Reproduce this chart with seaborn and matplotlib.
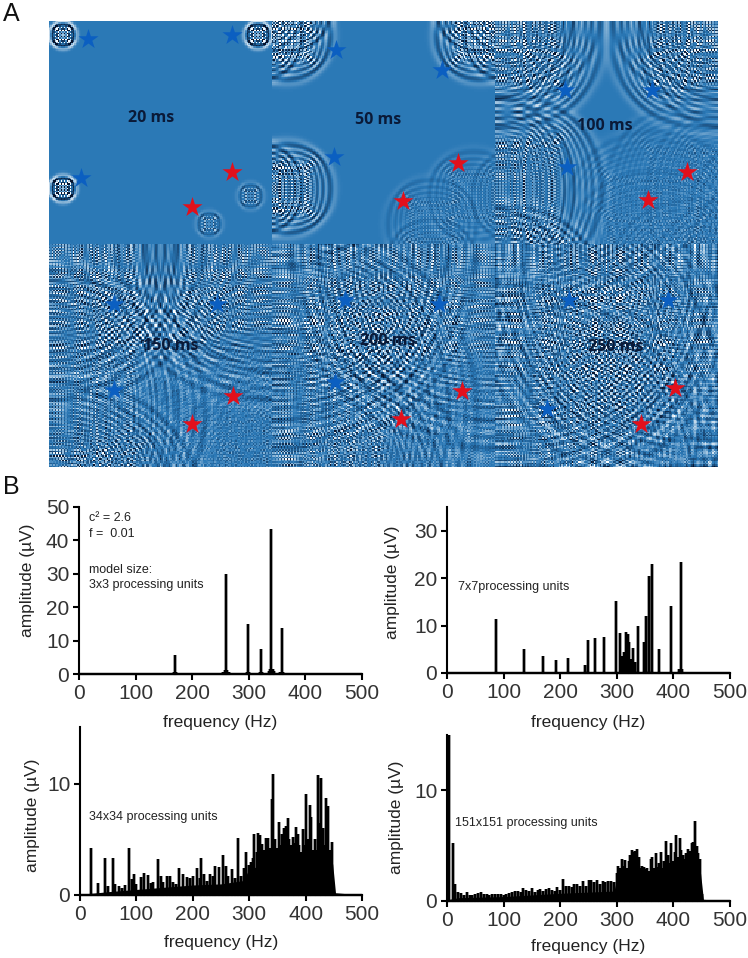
import numpy as np
import pandas as pd
import matplotlib
matplotlib.use("Agg")
import matplotlib.pyplot as plt
from matplotlib.colors import LinearSegmentedColormap
import seaborn as sns

# ---------- data ----------
time_labels = ["20 ms", "50 ms", "100 ms", "150 ms", "200 ms", "250 ms"]
time_label_x = [151, 378, 605, 171, 388, 616]
time_label_y = [118, 120, 126, 346, 341, 347]
blue_star_x = [88, 232, 81, 336, 442, 334, 565, 652, 567, 114, 217, 114, 345, 439, 335, 569, 668, 547]
blue_star_y = [39, 35, 178, 50, 70, 157, 90, 90, 167, 304, 304, 390, 300, 304, 382, 300, 300, 409]
red_star_x = [232, 192, 458, 403, 687, 648, 233, 192, 462, 401, 675, 641]
red_star_y = [172, 207, 163, 201, 172, 200, 396, 424, 391, 419, 388, 424]

# Wave sources within one panel (cells of a 151x151 grid) and their strengths.
source_col = [9, 141, 9, 136, 108]
source_row = [9, 9, 113, 118, 137]
source_amp = [1.0, 1.0, 1.0, 0.3, 0.3]
snapshot_steps = [14, 50, 100, 150, 200, 250]
snapshot_range = [0.05, 0.035, 0.028, 0.024, 0.022, 0.02]

f1 = [170, 168, 172, 255, 258, 260, 262, 265, 296, 298, 300, 319, 321, 323, 336, 338, 340, 342, 344, 356, 358, 360]
a1 = [5.8, 0.5, 0.5, 0.6, 1.2, 30, 1.2, 0.6, 0.6, 15, 0.6, 0.5, 7.6, 0.5, 0.9, 1.4, 43.5, 1.4, 0.9, 0.5, 13.7, 0.5]

f2 = [87, 136, 169, 192, 213, 243, 249, 261, 278, 298, 306, 310, 313, 317, 320, 322, 325,
      329, 333, 338, 348, 352, 357, 363, 375, 396, 410, 413, 416]
a2 = [11.3, 5, 3.5, 2.8, 3.2, 1.7, 7, 7.4, 7.6, 15.2, 8.4, 3.5, 4.5, 8.6, 8.3, 6.5, 3,
      5.3, 2.3, 10, 6.5, 12, 20.5, 23, 5, 14.2, 0.8, 23.5, 0.8]

f3 = [20, 32, 45, 50, 58, 62, 70, 75, 80, 86, 92, 95, 100, 108, 113, 120, 125, 130, 138, 143, 148,
      155, 160, 165, 170, 175, 183, 190, 195, 200, 207, 212, 215, 220, 225, 230, 235, 240, 247, 253,
      258, 263, 270, 275, 281, 286, 290, 295, 300, 303, 306, 309, 313, 316, 319, 322, 326, 330, 333,
      337, 340, 343, 346, 349, 352, 355, 358, 362, 365, 368, 371, 374, 377, 380, 383, 386, 389, 392,
      395, 398, 401, 404, 407, 410, 413, 416, 419, 422, 425, 428, 431, 434, 437, 440, 443, 446, 449]
a3 = [4.2, 1.1, 3.3, 0.8, 3.3, 1, 0.8, 0.6, 0.9, 4.2, 1.4, 1.9, 1, 1.6, 2, 1.8, 1.1, 1.2, 3.2, 1.7, 1.2,
      1.7, 1.7, 1.2, 1, 2.4, 1.9, 1.6, 1.5, 1.7, 2.4, 1.5, 3.3, 1.9, 1.3, 1.9, 1.7, 2.6, 2.5, 3.6,
      2.6, 1.7, 2.3, 1.5, 5.1, 1.7, 2.4, 3.9, 2.7, 3.0, 3.3, 5.5, 3.9, 5.6, 5.4, 4.6, 4.0, 5.1, 5.1,
      4.2, 8.6, 10.9, 5, 4.2, 6.6, 4.5, 5.5, 6, 6.2, 6.9, 5, 4.5, 5.2, 4.7, 6.1, 5.5, 4.5, 3.9,
      5.9, 4.5, 9.1, 5, 8.1, 7, 4, 5, 4, 10.8, 6.5, 10.5, 6, 4.5, 8.7, 8, 4, 4.8, 1]
floor3_f = [0, 50, 100, 150, 200, 250, 290, 300, 350, 400, 448, 453, 500]
floor3_a = [0.05, 0.3, 0.5, 0.7, 0.9, 1.0, 1.3, 2.4, 2.8, 2.8, 2.8, 0.2, 0.0]

f4_low = [2, 4, 10, 15]
a4_low = [15, 15, 5.2, 1.5]
f4_mid = list(range(20, 300, 5))
a4_mid = [0.8, 0.7, 0.5, 0.8, 0.5, 0.5, 0.6, 0.7, 0.8, 0.6, 0.6, 0.5, 0.6, 0.6, 0.6, 0.6, 0.5, 0.6, 0.7,
          0.8, 0.9, 0.9, 0.8, 1.2, 1.0, 0.9, 1.2, 0.8, 1.0, 1.1, 0.9, 1.1, 1.2, 1.0, 0.9, 1.3, 1.0, 2.0,
          1.4, 1.4, 1.3, 1.5, 1.5, 1.4, 1.8, 1.4, 1.9, 1.9, 1.7, 1.9, 1.5, 1.8, 1.7, 1.8, 1.8, 1.7]
f4_high = list(range(300, 453, 3))
a4_high = [2.5, 3.2, 3.0, 3.8, 3.2, 3.7, 3.0, 3.6, 4.2, 4.6, 4.4, 4.5, 4.7, 4.0, 3.0, 3.2, 3.1, 2.9, 3.0,
           2.7, 3.8, 4.0, 3.0, 4.3, 3.1, 3.4, 4.4, 3.0, 3.6, 5.4, 4.2, 3.4, 5.2, 3.6, 4.4, 6.0, 4.0, 5.7,
           4.6, 4.2, 3.8, 4.3, 4.7, 4.5, 5.2, 5.3, 7.2, 5.0, 4.3, 3.8, 0.6]
floor4_f = [0, 20, 100, 200, 295, 300, 400, 448, 453, 500]
floor4_a = [0.1, 0.3, 0.4, 0.7, 0.9, 2.0, 2.3, 2.5, 0.15, 0.0]

x_ticks = [0, 100, 200, 300, 400, 500]
notes1 = ["c² = 2.6", "f =  0.01", "model size:", "3x3 processing units"]
notes1_y = [518, 534, 570, 585]

# ---------- figure ----------
W, H = 748, 958
sns.set_theme(style="ticks")
plt.rcParams["font.family"] = ["Liberation Sans", "DejaVu Sans"]
fig = plt.figure(figsize=(W / 100, H / 100), dpi=100, facecolor="white")


def px_axes(l, t, r, b, **kw):
    return fig.add_axes([l / W, 1 - b / H, (r - l) / W, (b - t) / H], **kw)


# ---------- panel A ----------
# ILLUSTRATIVE TEXTURE: the interference pattern cannot be read cell by cell, so it
# is produced by a 2D wave-equation run from the source positions read off the
# picture. These cells are a look-alike, not values measured from the reference.
wave_cmap = LinearSegmentedColormap.from_list("wave", ["#07142e", "#2a78b6", "#ffffff"])


def wave_snapshots(steps, n=151, c2=0.46, sub=2):
    u = np.zeros((n, n))
    for r, c, a in zip(source_row, source_col, source_amp):
        u[r, c] = a
    prev = u.copy()
    out = {}
    for t in range(1, max(steps) + 1):
        for _ in range(sub):
            p = np.pad(u, 1, mode="edge")
            lap = p[2:, 1:-1] + p[:-2, 1:-1] + p[1:-1, 2:] + p[1:-1, :-2] - 4 * u
            u, prev = 2 * u - prev + (c2 / sub ** 2) * lap, u
        if t in steps:
            out[t] = u.copy()
    return out


snaps = wave_snapshots(snapshot_steps)
panel_l = [49, 272, 495]
panel_t = [21, 244]
for i, step in enumerate(snapshot_steps):
    col, row = i % 3, i // 3
    ax = px_axes(panel_l[col], panel_t[row], panel_l[col] + 223, panel_t[row] + 223)
    v = snapshot_range[i]
    sns.heatmap(snaps[step], ax=ax, cmap=wave_cmap, vmin=-v, vmax=v, cbar=False,
                xticklabels=False, yticklabels=False, rasterized=True)
    ax.set_xlabel("")
    ax.set_ylabel("")

overlay = px_axes(49, 21, 718, 467)
overlay.patch.set_alpha(0)
sns.scatterplot(x=blue_star_x, y=blue_star_y, ax=overlay, marker="*", s=230, color="#0b5fc1",
                linewidth=0, legend=False)
sns.scatterplot(x=red_star_x, y=red_star_y, ax=overlay, marker="*", s=230, color="#e2101c",
                linewidth=0, legend=False)
overlay.set_xlim(49, 718)
overlay.set_ylim(467, 21)
overlay.axis("off")
for label, x, y in zip(time_labels, time_label_x, time_label_y):
    overlay.text(x, y, label, ha="center", va="center", fontsize=11.5, fontweight="bold",
                 color="#0a1a38", family=["Open Sans", "DejaVu Sans"])

fig.text(3 / W, 1 - 14 / H, "A", fontsize=18, va="center", color="#111111")
fig.text(3 / W, 1 - 487 / H, "B", fontsize=18, va="center", color="#111111")


# ---------- panel B ----------
def stick_table(freqs, amps):
    xs, ys = [0.0], [0.0]
    for f, a in sorted(zip(freqs, amps)):
        xs += [f, f, f]
        ys += [0.0, a, 0.0]
    xs.append(500.0)
    ys.append(0.0)
    return pd.DataFrame({"frequency": xs, "amplitude": ys})


def spectrum(box, ymax, yticks, freqs, amps, xlab_y, ylab_x, ylab_y, floor=None):
    l, t, r, b = box
    ax = px_axes(l, t, r, b)
    ax.patch.set_alpha(0)
    if floor is not None:
        ax.fill_between(floor[0], 0, floor[1], color="black", lw=0)
    sns.lineplot(data=stick_table(freqs, amps), x="frequency", y="amplitude", ax=ax, sort=False,
                 estimator=None, color="black", lw=1.7, solid_joinstyle="bevel", clip_on=False)
    ax.set_xlim(0, 500)
    ax.set_ylim(0, ymax)
    ax.set_xticks(x_ticks)
    ax.set_yticks(yticks)
    ax.tick_params(axis="both", labelsize=15, width=1.5, length=4, color="black",
                   labelcolor="#333333", pad=3)
    sns.despine(ax=ax)
    for s in ["left", "bottom"]:
        ax.spines[s].set_linewidth(1.5)
        ax.spines[s].set_color("black")
    ax.set_xlabel("frequency (Hz)", fontsize=12.5, color="#222222")
    ax.set_ylabel("amplitude (µV)", fontsize=12.5, color="#222222")
    ax.xaxis.set_label_coords((l + r) / 2 / W, 1 - xlab_y / H, transform=fig.transFigure)
    ax.yaxis.set_label_coords(ylab_x / W, 1 - ylab_y / H, transform=fig.transFigure)
    ax.xaxis.label.set_va("center")
    ax.yaxis.label.set_va("center")
    return ax


spectrum((79, 507, 362, 674), 50, [0, 10, 20, 30, 40, 50], f1, a1, 722, 28, 580)
spectrum((447, 507, 730, 673), 35, [0, 10, 20, 30], f2, a2, 722, 393, 582)
spectrum((80, 727, 362, 895), 15.1, [0, 10], f3, a3, 943, 33, 815, floor=(floor3_f, floor3_a))
spectrum((447, 735, 730, 901), 15, [0, 10], f4_low + f4_mid + f4_high, a4_low + a4_mid + a4_high,
         947, 396, 817, floor=(floor4_f, floor4_a))

for txt, y in zip(notes1, notes1_y):
    fig.text(89 / W, 1 - y / H, txt, fontsize=9, va="center", color="#222222")
fig.text(458 / W, 1 - 587 / H, "7x7processing units", fontsize=9, va="center", color="#222222")
fig.text(89 / W, 1 - 817 / H, "34x34 processing units", fontsize=9, va="center", color="#222222")
fig.text(455 / W, 1 - 823 / H, "151x151 processing units", fontsize=9, va="center", color="#222222")

fig.savefig("out.png", dpi=100, facecolor="white")
